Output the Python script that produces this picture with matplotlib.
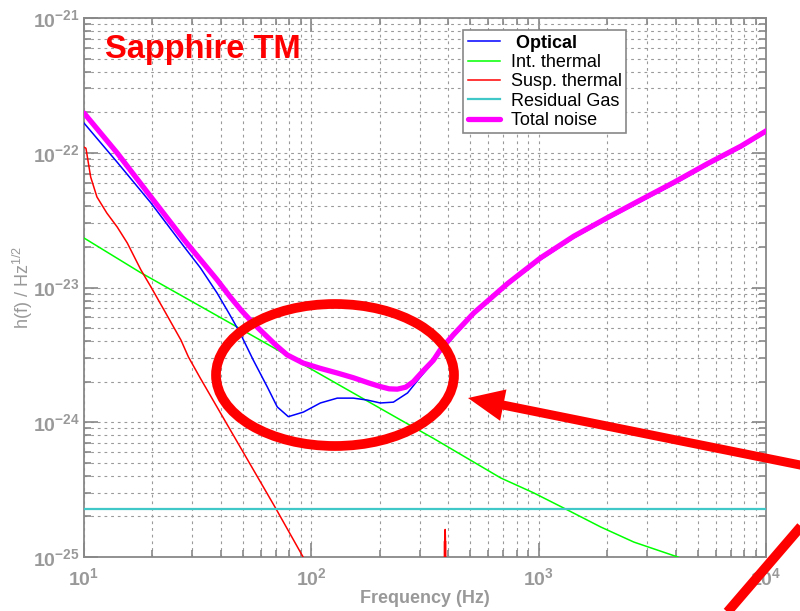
import numpy as np
import matplotlib
matplotlib.use("Agg")
import matplotlib.pyplot as plt
from matplotlib.patches import Ellipse, FancyArrow
from matplotlib.ticker import LogLocator, FuncFormatter, NullFormatter

plt.rcParams['font.family'] = ['Liberation Sans', 'DejaVu Sans']
plt.rcParams['mathtext.fontset'] = 'custom'
plt.rcParams['mathtext.rm'] = 'Liberation Sans'
plt.rcParams['mathtext.bf'] = 'Liberation Sans:bold'
plt.rcParams['mathtext.default'] = 'regular'

# ---- data (Hz, strain / sqrt(Hz)) ----
optical_f = [10, 14.0, 19.7, 27.6, 32.5, 38.5, 43.5, 48.6, 55.5, 64.0, 70.8, 79.2, 92.3,
             109.6, 130, 153, 176.6, 201, 229.6, 265, 302, 344, 370, 422, 518, 730, 1020,
             1426, 2014, 2811, 3936, 5546, 7762, 10200]
optical_h = [1.66e-22, 8.5e-23, 4.24e-23, 2.0e-23, 1.4e-23, 9.1e-24, 6.4e-24, 4.59e-24,
             2.9e-24, 1.83e-24, 1.30e-24, 1.10e-24, 1.19e-24,
             1.39e-24, 1.51e-24, 1.51e-24, 1.46e-24, 1.39e-24, 1.41e-24, 1.65e-24, 2.17e-24,
             2.8e-24, 3.3e-24, 4.3e-24, 6.3e-24, 1.04e-23, 1.61e-23,
             2.33e-23, 3.22e-23, 4.34e-23, 5.85e-23, 8.1e-23, 1.09e-22, 1.44e-22]

int_thermal_f = [10, 17.6, 39.7, 59.6, 247, 344, 681, 951, 1288, 1875, 2624, 4092, 10000]
int_thermal_h = [2.33e-23, 1.30e-23, 6.0e-24, 4.07e-24, 1.04e-24, 7.6e-25, 3.86e-25, 2.99e-25,
                 2.31e-25, 1.67e-25, 1.29e-25, 1.0e-25, 5.2e-26]

susp_thermal_f = [10, 10.2, 10.7, 11.4, 12.6, 14.0, 15.5, 17.8, 19.7, 22.5, 26.7, 28.8,
                  32.5, 70, 92, 120, 384, 385, 386, 388, 389, 390, 391, 392, 10000]
susp_thermal_h = [1.1e-22, 1.08e-22, 6.6e-23, 4.7e-23, 3.57e-23, 2.81e-23, 2.14e-23,
                  1.35e-23, 1.01e-23, 6.8e-24, 4.07e-24, 3.05e-24,
                  2.12e-24, 2.27e-25, 1.0e-25, 4.5e-26, 1e-27,
                  1.3e-25, 1.3e-25, 1.6e-25, 1.3e-25, 1.3e-25, 1e-27, 1e-27, 1e-27]

gas_f = [10, 10000]
gas_h = [2.27e-25, 2.27e-25]

total_f = [10, 14.0, 19.7, 27.6, 38.5, 44.0, 49.2, 55.5, 62.1, 70, 78.3, 92, 109.6, 130,
           153, 180, 201, 220, 239, 260, 281, 310, 344, 370, 422, 518, 730, 1020, 1426,
           2014, 2811, 3936, 5546, 7762, 10200]
total_h = [1.97e-22, 9.95e-23, 4.70e-23, 2.25e-23, 1.14e-23, 8.5e-24, 6.76e-24, 5.43e-24,
           4.52e-24, 3.72e-24, 3.16e-24, 2.75e-24, 2.51e-24, 2.32e-24,
           2.14e-24, 1.95e-24, 1.84e-24, 1.77e-24, 1.76e-24, 1.82e-24, 2.0e-24, 2.4e-24,
           2.88e-24, 3.47e-24, 4.47e-24, 6.46e-24, 1.07e-23, 1.66e-23, 2.4e-23,
           3.31e-23, 4.47e-23, 6.03e-23, 8.32e-23, 1.12e-22, 1.48e-22]

labels = [' Optical', 'Int. thermal', 'Susp. thermal', 'Residual Gas', 'Total noise']
grey = '#999999'

fig = plt.figure(figsize=(8, 6.11), dpi=100)
ax = fig.add_axes([84/800, 1 - 557/611, (766 - 84)/800, (557 - 18)/611])

ax.loglog(optical_f, optical_h, color='#0000ff', lw=1.1, label=labels[0], zorder=4)
ax.loglog(int_thermal_f, int_thermal_h, color='#00ff00', lw=1.1, label=labels[1], zorder=3)
ax.loglog(susp_thermal_f, susp_thermal_h, color='#ff0000', lw=1.1, label=labels[2], zorder=3)
ax.loglog(gas_f, gas_h, color='#40c8c8', lw=1.6, label=labels[3], zorder=3)
ax.loglog(total_f, total_h, color='#ff00ff', lw=3.8, label=labels[4], zorder=5,
          solid_capstyle='round', solid_joinstyle='round')

ax.set_xlim(10, 1e4)
ax.set_ylim(1e-25, 1e-21)

# ticks and grid in the old matlab look
ax.xaxis.set_major_locator(LogLocator(base=10, numticks=10))
ax.yaxis.set_major_locator(LogLocator(base=10, numticks=10))
ax.xaxis.set_minor_locator(LogLocator(base=10, subs=np.arange(2, 10), numticks=20))
ax.yaxis.set_minor_locator(LogLocator(base=10, subs=np.arange(2, 10), numticks=20))
ax.xaxis.set_minor_formatter(NullFormatter())
ax.yaxis.set_minor_formatter(NullFormatter())
fmt = FuncFormatter(lambda v, p: r'$\mathbf{10^{%d}}$' % round(np.log10(v)))
ax.xaxis.set_major_formatter(fmt)
ax.yaxis.set_major_formatter(fmt)
ax.tick_params(which='both', direction='in', top=True, right=True, color='#888888',
               labelcolor=grey, labelsize=14, width=1.2)
ax.tick_params(which='major', length=10)
ax.tick_params(which='minor', length=5)
ax.tick_params(axis='y', which='major', pad=3)
ax.tick_params(axis='x', which='major', pad=7)
for s in ax.spines.values():
    s.set_color('#888888')
    s.set_linewidth(1.3)
ax.grid(True, which='both', color='#9a9a9a', linestyle=(0, (2.5, 3.5)), lw=0.8)

ax.set_xlabel('Frequency (Hz)', color=grey, fontsize=13, fontweight='bold', labelpad=1)
ax.set_ylabel('h(f) / Hz$^{1/2}$', color=grey, fontsize=13)
ax.yaxis.set_label_coords(-0.072, 0.5)

leg = ax.legend(loc='upper left', bbox_to_anchor=(463/800, 1 - 30/611),
                bbox_transform=fig.transFigure, fancybox=False, framealpha=1,
                edgecolor='#888888', fontsize=13, handlelength=1.8, handletextpad=0.6,
                labelspacing=0.13, borderpad=0.25, borderaxespad=0)
leg.get_frame().set_linewidth(1.2)
leg.get_texts()[0].set_fontweight('bold')

# overlay for the slide annotations (pixel coordinates)
over = fig.add_axes([0, 0, 1, 1], zorder=10)
over.set_xlim(0, 800)
over.set_ylim(611, 0)
over.axis('off')
over.patch.set_alpha(0)
over.add_patch(Ellipse((335, 375), 238, 142, fill=False, edgecolor='#ff0000', lw=7))
over.add_patch(FancyArrow(810, 467, -342, -69, width=9, head_width=32, head_length=36,
                          length_includes_head=True, color='#ff0000', lw=0))
over.plot([724, 810], [616, 516], color='#ff0000', lw=7, solid_capstyle='butt')
over.text(105, 58, 'Sapphire TM', color='#ff0000', fontsize=23.5, fontweight='bold',
          ha='left', va='baseline')

fig.savefig('out.png', dpi=100)
